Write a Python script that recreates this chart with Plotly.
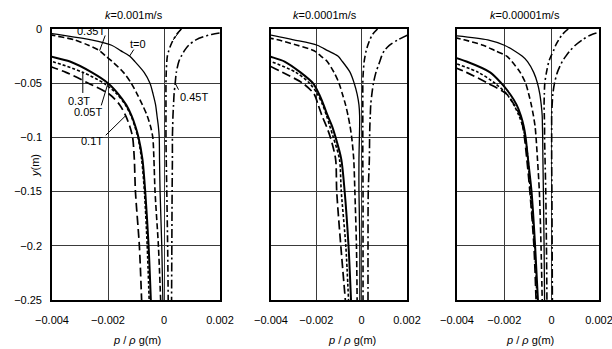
import plotly.graph_objects as go

# ---------------------------------------------------------------------------
# Depth below the surface y (m), shared by every profile
# ---------------------------------------------------------------------------
depth = [0, -0.005, -0.01, -0.015, -0.02, -0.025, -0.03, -0.04, -0.05,
         -0.06, -0.07, -0.08, -0.09, -0.1, -0.12, -0.15, -0.2, -0.25]

phases = ["t=0", "0.05T", "0.1T", "0.3T", "0.35T", "0.4T", "0.45T"]

# ---------------------------------------------------------------------------
# Pore-pressure head p/(rho g) (m) for each phase, k = 0.001 m/s
# ---------------------------------------------------------------------------
k1_t000 = [-0.0051, -0.0038, -0.0026, -0.00187, -0.00155, -0.00123, -0.00104, -0.00071, -0.0005,
           -0.00039, -0.0003, -0.00025, -0.0002, -0.00017, -0.00016, -0.00014, -0.00008, -0.00004]
k1_t005 = [-0.008, -0.0072, -0.0064, -0.0056, -0.0048, -0.0041, -0.00336, -0.00258, -0.002,
           -0.00163, -0.00135, -0.00116, -0.00102, -0.00091, -0.00077, -0.00067, -0.00055, -0.00047]
k1_t010 = [-0.0095, -0.0088, -0.008, -0.0072, -0.0064, -0.0055, -0.0046, -0.0035, -0.0027,
           -0.00196, -0.00158, -0.00137, -0.00122, -0.00112, -0.00106, -0.00102, -0.00088, -0.0008]
k1_t030 = [-0.009, -0.0082, -0.0073, -0.0065, -0.0057, -0.0049, -0.004, -0.0029, -0.00215,
           -0.00168, -0.00138, -0.00118, -0.00104, -0.00093, -0.0008, -0.0007, -0.0006, -0.00053]
k1_t035 = [-0.0047, -0.0041, -0.0032, -0.0027, -0.0023, -0.00208, -0.00185, -0.00145, -0.00117,
           -0.00096, -0.00077, -0.0006, -0.00048, -0.0004, -0.00036, -0.00032, -0.0002, -0.00012]
k1_t040 = [0.00062, 0.00045, 0.00033, 0.00024, 0.00017, 0.00012, 0.0001, 0.00008, 0.00007,
           0.00007, 0.00007, 0.00007, 0.00007, 0.00007, 0.00008, 0.0001, 0.00013, 0.00015]
k1_t045 = [0.0032, 0.0017, 0.00114, 0.00088, 0.00073, 0.00062, 0.00053, 0.00044, 0.0004,
           0.00036, 0.00034, 0.00032, 0.00031, 0.0003, 0.0003, 0.00029, 0.00028, 0.00027]

# k = 0.0001 m/s
k2_t000 = [-0.0065, -0.0042, -0.003, -0.00196, -0.0015, -0.00105, -0.00085, -0.00051, -0.00033,
           -0.0002, -0.00012, -0.00009, -0.00009, -0.0001, -0.00012, -0.00012, -0.00008, -0.00008]
k2_t005 = [-0.008, -0.0072, -0.0064, -0.0056, -0.0048, -0.0041, -0.0034, -0.0027, -0.00215,
           -0.00188, -0.00168, -0.0015, -0.0013, -0.00115, -0.0009, -0.00075, -0.00058, -0.00047]
k2_t010 = [-0.0095, -0.0088, -0.008, -0.0071, -0.0062, -0.0054, -0.0045, -0.0035, -0.0026,
           -0.0021, -0.00192, -0.00175, -0.00155, -0.00138, -0.00115, -0.0011, -0.00092, -0.00072]
k2_t030 = [-0.009, -0.0082, -0.0073, -0.0065, -0.0057, -0.0048, -0.004, -0.0029, -0.0023,
           -0.00195, -0.00172, -0.00155, -0.0014, -0.00125, -0.00098, -0.0009, -0.0007, -0.00058]
k2_t035 = [-0.0065, -0.0049, -0.0037, -0.00284, -0.0021, -0.0018, -0.00152, -0.00122, -0.001,
           -0.00085, -0.00071, -0.0006, -0.00051, -0.00044, -0.00035, -0.0003, -0.00023, -0.0002]
k2_t040 = [0.0007, 0.00048, 0.00036, 0.00027, 0.0002, 0.00015, 0.00011, 0.00007, 0.00005,
           0.00005, 0.00005, 0.00005, 0.00005, 0.00005, 0.00005, 0.00006, 0.00006, 0.00006]
k2_t045 = [0.0035, 0.0021, 0.0016, 0.00122, 0.001, 0.00088, 0.0008, 0.00063, 0.00052,
           0.00045, 0.0004, 0.00038, 0.00036, 0.00035, 0.00034, 0.00029, 0.00028, 0.00028]

# k = 0.00001 m/s
k3_t000 = [-0.008, -0.0046, -0.0027, -0.002, -0.00158, -0.00125, -0.00102, -0.00076, -0.0006,
           -0.0005, -0.00044, -0.0004, -0.00039, -0.00038, -0.00037, -0.00035, -0.00032, -0.0003]
k3_t005 = [-0.0085, -0.0077, -0.0068, -0.006, -0.0051, -0.0043, -0.0036, -0.0026, -0.00213,
           -0.00176, -0.00148, -0.0013, -0.00118, -0.0011, -0.001, -0.00085, -0.0007, -0.00058]
k3_t010 = [-0.0105, -0.0097, -0.0088, -0.0078, -0.0068, -0.0058, -0.0048, -0.0036, -0.0027,
           -0.0019, -0.00158, -0.00133, -0.00122, -0.00115, -0.00105, -0.00092, -0.00075, -0.00066]
k3_t030 = [-0.0095, -0.0087, -0.0078, -0.0069, -0.006, -0.0052, -0.0043, -0.0031, -0.0024,
           -0.0019, -0.0016, -0.00138, -0.00122, -0.00112, -0.001, -0.0009, -0.00072, -0.00062]
k3_t035 = [-0.0075, -0.0048, -0.0037, -0.0029, -0.0024, -0.0019, -0.00168, -0.00133, -0.0011,
           -0.00097, -0.00086, -0.00077, -0.0007, -0.00066, -0.0006, -0.00052, -0.00045, -0.0004]
k3_t040 = [0.0007, 0.00045, 0.0003, 0.00017, 0.00008, -0.00003, -0.00012, -0.00022, -0.00029,
           -0.00031, -0.00032, -0.00031, -0.0003, -0.0003, -0.00028, -0.00025, -0.00022, -0.0002]
k3_t045 = [0.0026, 0.0017, 0.0013, 0.001, 0.00078, 0.0006, 0.00045, 0.00024, 0.00012,
           0.00005, 0.00002, 0.0, 0.0, 0.0, 0.0, 0.00001, 0.00002, 0.00003]

panel_titles = ["<i>k</i>=0.001m/s", "<i>k</i>=0.0001m/s", "<i>k</i>=0.00001m/s"]
panel_series = [
    [k1_t000, k1_t005, k1_t010, k1_t030, k1_t035, k1_t040, k1_t045],
    [k2_t000, k2_t005, k2_t010, k2_t030, k2_t035, k2_t040, k2_t045],
    [k3_t000, k3_t005, k3_t010, k3_t030, k3_t035, k3_t040, k3_t045],
]

x_ticks = [-0.004, -0.002, 0, 0.002]
y_ticks = [0, -0.05, -0.1, -0.15, -0.2, -0.25]

# line style per phase: (dash, width)
styles = [
    ("solid", 1.3),
    ("solid", 2.0),
    ("9px,4px", 1.7),
    ("3px,2px", 1.6),
    ("6px,3px", 1.6),
    ("7px,3px,2px,3px", 1.6),
    ("9px,3px,2px,3px", 1.6),
]

W, H = 612, 349
FONT = "Liberation Sans, Arial, sans-serif"

# subplot boxes in pixels (left, right); shared top/bottom
boxes = [(52, 220), (271, 407), (457, 599)]
top_px, bot_px = 29, 300


def fx(px):
    return px / W


def fy(py):
    return 1 - py / H


fig = go.Figure()

for i, series in enumerate(panel_series):
    ax = "" if i == 0 else str(i + 1)
    for name, xs, (dash, width) in zip(phases, series, styles):
        fig.add_trace(go.Scatter(
            x=xs, y=depth, mode="lines", name=name,
            line=dict(color="black", width=width, dash=dash, shape="spline", smoothing=0.8),
            xaxis="x" + ax, yaxis="y" + ax, showlegend=False, hoverinfo="skip",
        ))

axis_common = dict(
    showgrid=True, gridcolor="#3a3a3a", gridwidth=1,
    showline=True, mirror=True, linecolor="black", linewidth=1.6,
    zeroline=False, ticks="", automargin=False, ticklabeloverflow="allow",
    tickfont=dict(family=FONT, size=11, color="black"),
)

layout = dict(
    width=W, height=H, margin=dict(l=0, r=0, t=0, b=0, autoexpand=False),
    paper_bgcolor="white", plot_bgcolor="white",
    font=dict(family=FONT, size=11, color="black"),
)

for i, (l, r) in enumerate(boxes):
    sx = "" if i == 0 else str(i + 1)
    layout["xaxis" + sx] = dict(
        axis_common, domain=[fx(l), fx(r)], range=[-0.004, 0.002],
        tickvals=x_ticks, ticktext=[f"{v:g}".replace("-", "\u2212") for v in x_ticks],
        anchor="y" + sx, ticklabelstandoff=9,
    )
    layout["yaxis" + sx] = dict(
        axis_common, domain=[fy(bot_px), fy(top_px)], range=[-0.25, 0],
        tickvals=y_ticks, ticktext=[f"{v:g}".replace("-", "\u2212") for v in y_ticks],
        showticklabels=(i == 0), anchor="x" + sx, ticklabelstandoff=6,
    )

fig.update_layout(**layout)

annotations = []
title_px = [134, 325, 525]
xlabel_px = [137, 352, 530]
for i in range(3):
    annotations.append(dict(
        text=panel_titles[i], x=fx(title_px[i]), y=fy(15), xref="paper", yref="paper",
        showarrow=False, xanchor="center", yanchor="middle",
        font=dict(family=FONT, size=11, color="black"),
    ))
    annotations.append(dict(
        text="<i>p</i> / <i>ρ</i> g(m)", x=fx(xlabel_px[i]), y=fy(340), xref="paper", yref="paper",
        showarrow=False, xanchor="center", yanchor="middle",
        font=dict(family=FONT, size=11, color="black"),
    ))

annotations.append(dict(
    text="<i>y</i>(m)", x=fx(35), y=fy(166), xref="paper", yref="paper",
    showarrow=False, textangle=-90, xanchor="center", yanchor="middle",
    font=dict(family=FONT, size=11, color="black"),
))

# phase labels on the first panel: (label, text position, leader start, phase index, depth of leader end)
phase_notes = [
    ("0.35T", (-0.00262, -0.0018), (-0.0021, -0.006), 4, -0.02),
    ("t=0", (-0.00094, -0.0135), (-0.00108, -0.019), 0, -0.025),
    ("0.4T", (0.00098, 0.0056), (0.00062, 0.0003), 5, -0.01),
    ("0.45T", (0.00108, -0.063), (0.00052, -0.056), 6, -0.05),
    ("0.3T", (-0.00305, -0.0665), (-0.0029, -0.059), 3, -0.04),
    ("0.05T", (-0.00272, -0.0765), (-0.00224, -0.0705), 1, -0.05),
    ("0.1T", (-0.00258, -0.1035), (-0.00208, -0.098), 2, -0.08),
]

shapes = []
for label, (tx, ty), (sx0, sy0), idx, d_end in phase_notes:
    annotations.append(dict(
        text=label, x=tx, y=ty, xref="x", yref="y", showarrow=False,
        xanchor="center", yanchor="middle",
        font=dict(family=FONT, size=11, color="black"),
    ))
    j = depth.index(d_end)
    shapes.append(dict(
        type="line", xref="x", yref="y", x0=sx0, y0=sy0,
        x1=panel_series[0][idx][j], y1=depth[j],
        line=dict(color="black", width=1),
    ))

fig.update_layout(annotations=annotations, shapes=shapes)

fig.write_html("out.html")
